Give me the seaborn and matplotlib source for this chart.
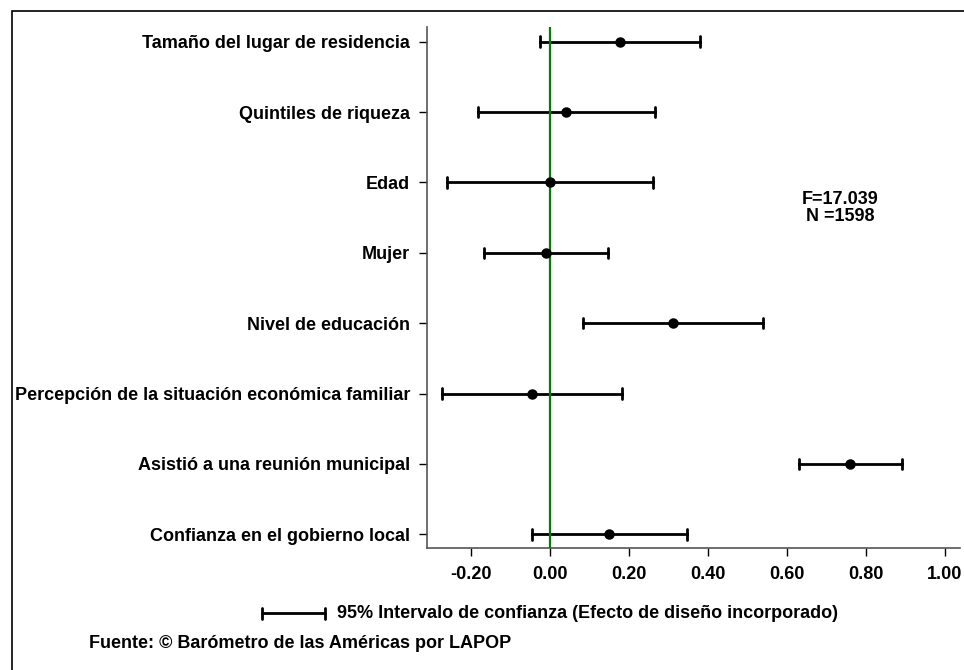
import pandas as pd
import numpy as np
import matplotlib
matplotlib.use("Agg")
import matplotlib.pyplot as plt
from matplotlib.lines import Line2D
from matplotlib.patches import Rectangle
import seaborn as sns

sns.set_style("white")
plt.rcParams["font.family"] = ["Liberation Sans", "DejaVu Sans"]
plt.rcParams["font.weight"] = "bold"
plt.rcParams["text.color"] = "black"
plt.rcParams["xtick.color"] = "black"
plt.rcParams["ytick.color"] = "black"

# coeficientes estandarizados y sus intervalos de confianza al 95%
variables = ["Tamaño del lugar de residencia", "Quintiles de riqueza", "Edad", "Mujer",
             "Nivel de educación", "Percepción de la situación económica familiar",
             "Asistió a una reunión municipal", "Confianza en el gobierno local"]
coef = [0.177, 0.042, 0.000, -0.010, 0.311, -0.044, 0.760, 0.150]
ci_low = [-0.026, -0.181, -0.260, -0.168, 0.085, -0.272, 0.630, -0.046]
ci_high = [0.381, 0.266, 0.260, 0.147, 0.540, 0.183, 0.891, 0.348]
xticks = [-0.20, 0.00, 0.20, 0.40, 0.60, 0.80, 1.00]

W, H = 964, 670
fig = plt.figure(figsize=(W / 100, H / 100), dpi=100)
ax = fig.add_axes([427 / W, 1 - 548 / H, (960 - 427) / W, (548 - 27) / H])

"long table: low / estimate / high per variable, median = estimate, range = CI"
df = pd.DataFrame({"variable": variables * 3, "valor": ci_low + coef + ci_high})
sns.pointplot(data=df, x="valor", y="variable", order=variables, orient="h",
              estimator="median", errorbar=lambda v: (v.min(), v.max()),
              linestyle="none", color="black", marker="o", markersize=5.5,
              capsize=0.15, err_kws={"linewidth": 2}, ax=ax)

for ln in ax.lines:
    if ln.get_marker() == "o":
        ln.set_zorder(4)

ax.axvline(0, color="#008000", linewidth=1.6, zorder=3)

ax.set_xlim(-0.311, 1.038)
ax.set_ylim(7.195, -0.21)
ax.set_xticks(xticks)
ax.set_xticklabels([f"{t:.2f}" for t in xticks])
ax.set_xlabel("")
ax.set_ylabel("")
for s in ["top", "right"]:
    ax.spines[s].set_visible(False)
for s in ["left", "bottom"]:
    ax.spines[s].set_color("#555555")
    ax.spines[s].set_linewidth(1.2)
ax.tick_params(axis="y", length=6, width=1, color="black", labelcolor="black", pad=6, labelsize=13, left=True)
ax.tick_params(axis="x", length=6, width=1, color="black", labelcolor="black", pad=7, labelsize=13, bottom=True)
for lab in ax.get_xticklabels() + ax.get_yticklabels():
    lab.set_fontweight("bold")

fig.text(840 / W, 1 - 208 / H, "F=17.039\nN =1598", ha="center", va="center",
         fontsize=13, fontweight="bold", linespacing=0.95)

"legend drawn by hand"
y_leg = 1 - 613 / H
x0, x1 = 262 / W, 325 / W
fig.add_artist(Line2D([x0, x1], [y_leg, y_leg], color="black", lw=2))
for xc in (x0, x1):
    fig.add_artist(Line2D([xc, xc], [y_leg - 5.5 / H, y_leg + 5.5 / H], color="black", lw=2))
fig.text(337 / W, y_leg, "95% Intervalo de confianza (Efecto de diseño incorporado)",
         ha="left", va="center", fontsize=13, fontweight="bold")
fig.text(89 / W, 1 - 644 / H, "Fuente: © Barómetro de las Américas por LAPOP",
         ha="left", va="center", fontsize=13, fontweight="bold")

"frame around the whole figure, right and bottom edges fall off the canvas"
fig.add_artist(Rectangle((11.5 / W, -5 / H), 1.0, (H - 10.5 + 5) / H,
                         transform=fig.transFigure, fill=False, ec="black", lw=1.2))

fig.savefig("out.png", dpi=100)
